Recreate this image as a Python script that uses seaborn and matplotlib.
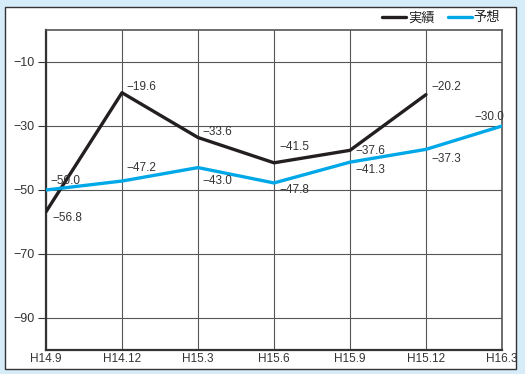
import matplotlib
matplotlib.use("Agg")
import matplotlib.pyplot as plt
from matplotlib.patches import Rectangle
from matplotlib.lines import Line2D
import seaborn as sns
import pandas as pd

# --- data -------------------------------------------------------------
periods = ["H14.9", "H14.12", "H15.3", "H15.6", "H15.9", "H15.12", "H16.3"]
actual = [-56.8, -19.6, -33.6, -41.5, -37.6, -20.2]          # 実績
forecast = [-50.0, -47.2, -43.0, -47.8, -41.3, -37.3, -30.0]  # 予想
yticks = [-10, -30, -50, -70, -90]

series_names = ["実績", "予想"]
colors = {"実績": "#231f20", "予想": "#00a8e8"}

rows = []
for i, v in enumerate(actual):
    rows.append({"x": i, "value": v, "series": "実績"})
for i, v in enumerate(forecast):
    rows.append({"x": i, "value": v, "series": "予想"})
df = pd.DataFrame(rows)

sns.set_theme(style="white")
plt.rcParams["font.family"] = ["Liberation Sans", "Noto Sans CJK JP", "DejaVu Sans"]

fig = plt.figure(figsize=(5.25, 3.74), dpi=100)
fig.patch.set_facecolor("#d6ecf9")

# white panel with border, kept behind the axes
W, H = 525, 374
panel = Rectangle((5 / W, 1 - 369 / H), 511 / W, 362 / H,
                  transform=fig.transFigure, facecolor="white",
                  edgecolor="#333333", linewidth=1.0, zorder=-10)
fig.patches.append(panel)

ax = fig.add_axes([46 / W, 1 - 350 / H, 456 / W, 320 / H])
ax.set_facecolor("white")
ax.set_zorder(1)

sns.lineplot(data=df, x="x", y="value", hue="series", hue_order=series_names,
             palette=colors, linewidth=2.4, ax=ax, legend=False,
             sort=False, zorder=3)

ax.set_xlim(0, len(periods) - 1)
ax.set_ylim(-100, 0)
ax.set_xticks(range(len(periods)))
ax.set_xticklabels(periods)
ax.set_yticks(yticks)
ax.set_yticklabels([f"\u2212{abs(t)}" for t in yticks])
ax.set_xlabel("")
ax.set_ylabel("")

ax.grid(True, color="#555555", linewidth=0.8, zorder=1)
for side in ["left", "bottom"]:
    ax.spines[side].set_color("#333333")
    ax.spines[side].set_linewidth(1.6)
for side in ["top", "right"]:
    ax.spines[side].set_color("#555555")
    ax.spines[side].set_linewidth(1.2)

ax.tick_params(axis="y", left=True, length=6, width=0.8, color="#333333",
               labelsize=9, labelcolor="#333333", pad=2)
ax.tick_params(axis="x", bottom=False, length=0, labelsize=8.5,
               labelcolor="#333333", pad=2)

# value labels (offsets in points)
act_off = [(5, -7), (3, 2), (3, 2), (4, 9), (4, -3), (4, 3)]
fc_off = [(3, 4), (3, 7), (3, -12), (4, -7), (4, -8), (4, -9), (-20, 4)]
for i, (v, off) in enumerate(zip(actual, act_off)):
    ax.annotate(f"\u2212{abs(v):.1f}", (i, v), xytext=off, textcoords="offset points",
                fontsize=8.5, color="#333333", zorder=4, annotation_clip=False)
for i, (v, off) in enumerate(zip(forecast, fc_off)):
    ax.annotate(f"\u2212{abs(v):.1f}", (i, v), xytext=off, textcoords="offset points",
                fontsize=8.5, color="#333333", zorder=4, annotation_clip=False)

handles = [Line2D([0], [0], color=colors[s], linewidth=2.4) for s in series_names]
fig.legend(handles, series_names, loc="upper right",
           bbox_to_anchor=(500 / W, 1 - 12 / H), ncol=2, frameon=False,
           fontsize=9.5, handlelength=1.8, handletextpad=0.15, columnspacing=1.0,
           borderaxespad=0, borderpad=0)

fig.savefig("out.png", dpi=100, facecolor=fig.get_facecolor())
